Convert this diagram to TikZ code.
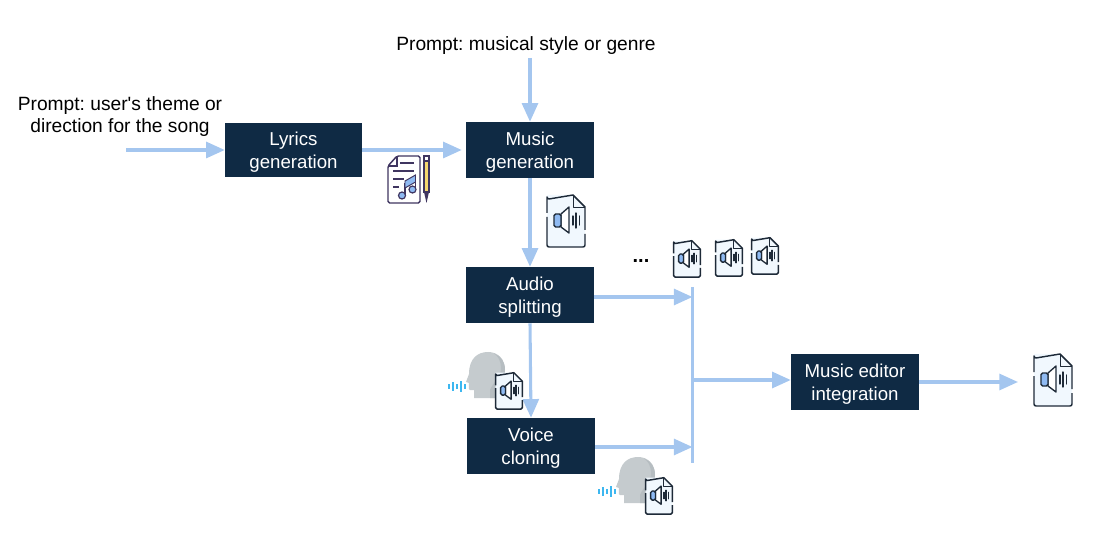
\documentclass[tikz,border=0pt]{standalone}
\usepackage{fontspec}
\newfontfamily\labelfont{Liberation Sans}
\usetikzlibrary{arrows.meta}
\definecolor{boxnavy}{HTML}{0F2A44}
\definecolor{flow}{HTML}{A4C6EF}
\definecolor{inkdark}{HTML}{1E2A38}
\definecolor{filebg}{HTML}{F1F8FE}
\definecolor{speaker}{HTML}{8FBAF2}
\definecolor{headgray}{HTML}{C5CBCE}
\definecolor{headshade}{HTML}{B6BDC1}
\definecolor{wavecyan}{HTML}{3DB7F0}
\definecolor{purpleink}{HTML}{3F3560}
\definecolor{pencilyel}{HTML}{F5D76E}
\newcommand{\dn}{\rule{0pt}{13.5pt}}
\tikzset{
  x=0.75pt,y=-0.75pt,
  procbox/.style={fill=boxnavy,draw=none,text=white,inner sep=0pt,align=center,font=\labelfont\frenchspacing\fontsize{14pt}{17.25pt}\selectfont},
  plainlabel/.style={inner sep=0pt,align=center,text=black,font=\labelfont\frenchspacing\fontsize{14.4pt}{17pt}\selectfont},
  flowline/.style={draw=flow,line width=2.3pt},
  flowarrow/.style={flowline,-{Triangle[length=14pt,width=12pt]},shorten >=0pt},
  audiofile/.pic={
    \fill[filebg] (1,1) -- (27,1) -- (39,13) -- (39,53) -- (1,53) -- cycle;
    \draw[inkdark,line width=1.1pt,line join=round] (1,19) -- (1,3) arc[start angle=180,end angle=90,radius=2] -- (27,1) -- (39,13) -- (39,36);
    \draw[inkdark,line width=1.1pt,line join=round] (39,40) -- (39,51) arc[start angle=0,end angle=90,radius=2] -- (3,53) arc[start angle=90,end angle=180,radius=2] -- (1,23);
    \draw[inkdark,line width=0.7pt,line join=round] (27,1) -- (27,13) -- (39,13);
    \fill[white,draw=inkdark,line width=1pt,line join=round] (15,20) -- (23,13) -- (23,39) -- (15,33) -- cycle;
    \fill[speaker,draw=inkdark,line width=1pt,rounded corners=1.2pt] (8,20) -- (15,20) -- (15,33) -- (8,33) -- cycle;
    \draw[inkdark,line width=1pt,line cap=round] (27,22)--(27,31) (30,19)--(30,34) (33.5,22)--(33.5,31);
  },
  talkhead/.pic={
    \fill[headgray] (6,46) -- (6,38) -- (2,38) .. controls (0,38) and (1,33) .. (1,31) -- (-2,30) -- (1,22)
      .. controls (1,6) and (10,0) .. (20,0) .. controls (30,0) and (37,7) .. (37,18)
      .. controls (37,28) and (31,32) .. (28,37) -- (28,46) -- cycle;
    \fill[headshade] (26,1.5) .. controls (33,4) and (37,10) .. (37,18) .. controls (37,28) and (31,32) .. (28,37) -- (28,46) -- (22,46) -- (22,38) .. controls (25,30) and (33,26) .. (33,16) .. controls (33,9) and (30,4) .. (26,1.5) -- cycle;
    \draw[wavecyan,line width=1.3pt] (-19,32)--(-19,37) (-15,30)--(-15,39) (-11,32)--(-11,37) (-7,29)--(-7,40) (-3,32)--(-3,37);
  },
  lyricsheet/.pic={
    \draw[purpleink,line width=1.1pt,fill=white,line join=round,rounded corners=1.2pt] (0,10) -- (9,0) -- (32,0) -- (32,47) -- (0,47) -- cycle;
    \draw[purpleink,line width=0.9pt] (9,0) -- (9,10) -- (0,10);
    \draw[purpleink,line width=0.9pt] (12,7)--(26,7) (5,15)--(26,15) (5,23)--(16,23) (5,31)--(11,31);
    \draw[purpleink,line width=1pt] (17,27) -- (17,39) (27.5,20) -- (27.5,33);
    \fill[speaker,draw=purpleink,line width=0.7pt] (17,25) -- (27.5,19) -- (27.5,26) -- (17,32) -- cycle;
    \fill[speaker,draw=purpleink,line width=0.9pt] (14,39.5) circle[radius=3.5];
    \fill[speaker,draw=purpleink,line width=0.9pt] (24.5,33.5) circle[radius=3.5];
    \fill[pencilyel,draw=purpleink,line width=0.9pt] (36,0) rectangle (41,36);
    \fill[white,draw=purpleink,line width=0.9pt] (36,0) rectangle (41,5);
    \fill[purpleink] (36,36) -- (41,36) -- (38.5,47) -- cycle;
  }
}
\begin{document}
\begin{tikzpicture}
\useasboundingbox (0,0) rectangle (1095,534);

\node[plainlabel] (promptstyle) at (526,46) {Prompt: musical style or genre};
\node[plainlabel,align=center] (prompttheme) at (120,116.5) {Prompt: user's theme or\\direction for the song};

\node[procbox,minimum width=102.75pt,minimum height=40.5pt] (lyrics) at (293.5,150) {\dn Lyrics\\generation};
\node[procbox,minimum width=96pt,minimum height=42pt] (music) at (530,150) {\dn Music\\generation};
\node[procbox,minimum width=96pt,minimum height=42pt] (split) at (530,295) {\dn Audio\\splitting};
\node[procbox,minimum width=96pt,minimum height=42pt] (voice) at (531,446) {\dn Voice\\cloning};
\node[procbox,minimum width=96pt,minimum height=42pt] (editor) at (855,382) {\dn Music editor\\integration};
\node[plainlabel,font=\labelfont\bfseries\fontsize{15pt}{17pt}\selectfont] (dots) at (641,261) {...};

\coordinate (themestart) at (126,150);
\coordinate (stylestart) at (530,58);
\coordinate (bartop) at (692.5,287);
\coordinate (barbottom) at (692.5,463);
\coordinate (barsplit) at (692.5,297);
\coordinate (barvoice) at (692.5,447);
\coordinate (barout) at (692.5,380);
\coordinate (finalout) at (1018,382);

\draw[flowarrow] (themestart) -- (lyrics.west |- themestart);
\draw[flowarrow] (lyrics.east) -- ([xshift=-3pt]music.west);
\draw[flowarrow] (stylestart) -- (music.north);
\draw[flowarrow] (music.south) -- (split.north);
\draw[flowarrow] (split.south) -- (voice.north);
\draw[flowarrow] (split.east |- barsplit) -- (barsplit);
\draw[flowarrow] (voice.east |- barvoice) -- (barvoice);
\draw[flowline] (bartop) -- (barbottom);
\draw[flowarrow] (barout) -- (editor.west |- barout);
\draw[flowarrow] (editor.east) -- (finalout);

\pic at (388,156) {lyricsheet};
\pic at (546,194) {audiofile};
\pic[scale=0.7,transform shape] at (673,240) {audiofile};
\pic[scale=0.7,transform shape] at (715,239) {audiofile};
\pic[scale=0.7,transform shape] at (751,237) {audiofile};
\pic at (468,352) {talkhead};
\pic[scale=0.7,transform shape] at (495,372) {audiofile};
\pic at (618,457) {talkhead};
\pic[scale=0.7,transform shape] at (645,477) {audiofile};
\pic at (1033,353) {audiofile};
\end{tikzpicture}
\end{document}
